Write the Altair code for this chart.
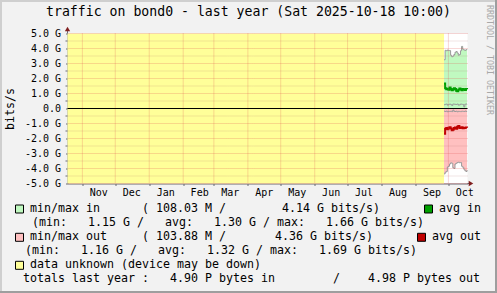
import altair as alt
import pandas as pd

FONT = "DejaVu Sans Mono"

# ---------------- data ----------------
title_text = "traffic on bond0 - last year (Sat 2025-10-18 10:00)"
range_start = "2024-10-18T10:00:00Z"
range_end = "2025-10-18T10:00:00Z"
unknown_start = "2024-10-18T10:00:00Z"
unknown_end = "2025-09-27T00:00:00Z"

days = [f"2025-09-{d:02d}T00:00:00Z" for d in range(27, 31)] + \
       [f"2025-10-{d:02d}T00:00:00Z" for d in range(1, 19)]

# values in G bits/s
max_in = [3.25, 3.88, 3.85, 3.90, 3.87, 3.86, 3.55, 3.45, 3.50, 3.60, 3.75,
          3.80, 3.70, 3.55, 3.60, 3.85, 4.14, 3.95, 3.90, 3.88, 3.92, 3.90]
min_in = [0.25, 0.28, 0.30, 0.22, 0.27, 0.30, 0.26, 0.20, 0.30, 0.29, 0.28,
          0.27, 0.30, 0.22, 0.25, 0.30, 0.28, 0.27, 0.11, 0.29, 0.30, 0.28]
avg_in = [1.66, 1.35, 1.28, 1.32, 1.25, 1.40, 1.30, 1.22, 1.27, 1.35, 1.30,
          1.18, 1.15, 1.25, 1.33, 1.28, 1.22, 1.30, 1.26, 1.24, 1.30, 1.28]
max_out = [4.36, 4.25, 4.20, 3.90, 3.85, 3.70, 3.62, 3.65, 3.95, 4.00, 3.70,
           3.65, 3.60, 3.58, 3.62, 3.60, 3.85, 3.92, 4.05, 4.15, 4.20, 4.10]
min_out = [0.18, 0.20, 0.17, 0.22, 0.19, 0.20, 0.18, 0.21, 0.10, 0.19, 0.20,
           0.18, 0.22, 0.19, 0.20, 0.21, 0.18, 0.19, 0.20, 0.17, 0.19, 0.20]
avg_out = [1.69, 1.35, 1.30, 1.38, 1.28, 1.25, 1.33, 1.45, 1.40, 1.30, 1.27,
           1.35, 1.22, 1.16, 1.30, 1.28, 1.25, 1.32, 1.30, 1.28, 1.26, 1.29]

month_names = ["Nov", "Dec", "Jan", "Feb", "Mar", "Apr", "May", "Jun",
               "Jul", "Aug", "Sep", "Oct"]
month_starts = ["2024-11-01", "2024-12-01", "2025-01-01", "2025-02-01",
                "2025-03-01", "2025-04-01", "2025-05-01", "2025-06-01",
                "2025-07-01", "2025-08-01", "2025-09-01", "2025-10-01"]
y_ticks = [-5, -4, -3, -2, -1, 0, 1, 2, 3, 4, 5]
y_minor = [-4.5, -3.5, -2.5, -1.5, -0.5, 0.5, 1.5, 2.5, 3.5, 4.5]

legend_in = ["108.03 M", "4.14 G", "1.15 G", "1.30 G", "1.66 G"]
legend_out = ["103.88 M", "4.36 G", "1.16 G", "1.32 G", "1.69 G"]
totals = ["4.90 P", "4.98 P"]


# ---------------- tables ----------------
def ms(s):
    t = pd.Timestamp(s)
    if t.tzinfo is None:
        t = t.tz_localize("UTC")
    return int(t.value // 10**6)


df = pd.DataFrame({
    "date": days,
    "max_in": max_in, "min_in": min_in, "avg_in": avg_in,
    "max_out": [-v for v in max_out], "min_out": [-v for v in min_out],
    "avg_out": [-v for v in avg_out],
})
df["zero"] = 0.0

ms_starts = [ms(s) for s in month_starts]
month_df = pd.DataFrame({
    "start": [s + "T00:00:00Z" for s in month_starts],
    "mid": [(pd.Timestamp(s) + pd.Timedelta(days=15)).strftime("%Y-%m-%dT%H:%M:%SZ")
            for s in month_starts],
    "name": month_names,
})
unknown_df = pd.DataFrame({"s": [unknown_start], "e": [unknown_end]})
grid_major = pd.DataFrame({"v": y_ticks})
grid_minor = pd.DataFrame({"v": y_minor})
one = pd.DataFrame({"a": [0]})

xs = alt.Scale(type="utc", domain=[ms(range_start), ms(range_end)])
ys = alt.Scale(domain=[-5, 5], nice=False, zero=False)

AXIS_COL = "#6a6a72"
xaxis = alt.Axis(values=ms_starts, labels=False, ticks=True, tickSize=2,
                 tickColor=AXIS_COL, domain=True, domainColor=AXIS_COL,
                 grid=False, title=None)
yaxis = alt.Axis(values=y_ticks, grid=False, domain=True, domainColor=AXIS_COL,
                 tickColor=AXIS_COL, tickSize=2, labelPadding=5,
                 labelFont=FONT, labelFontSize=10, labelColor="black",
                 labelExpr="datum.value == 0 ? '0.0' : (datum.value < 0 ? '-' : '') + format(abs(datum.value), '.1f') + ' G'",
                 title="bits/s", titleFont=FONT, titleFontSize=11.6,
                 titleFontWeight="normal", titleColor="black",
                 titleAngle=270, titleX=-57, titleY=75,
                 titleAlign="center", titleBaseline="middle")


def X(field):
    return alt.X(field, type="temporal", scale=xs, axis=xaxis)


def Y(field):
    return alt.Y(field, type="quantitative", scale=ys, axis=yaxis)


base = alt.Chart(df)

unknown = alt.Chart(unknown_df).mark_rect(color="#FFFF99").encode(
    x=X("s"), x2="e", y=alt.YDatum(5, scale=ys, axis=yaxis), y2=alt.Y2Datum(-5))

area_in = base.mark_area(interpolate="step-after", color="#C0F9C0").encode(
    x=X("date"), y=Y("max_in"), y2="zero")
area_out = base.mark_area(interpolate="step-after", color="#FFC0C0").encode(
    x=X("date"), y=Y("max_out"), y2="zero")

GRAY = "#9a9a9a"
lines = []
for f in ["max_in", "min_in", "max_out", "min_out"]:
    lines.append(base.mark_line(interpolate="step-after", color=GRAY,
                                strokeWidth=1).encode(x=X("date"), y=Y(f)))
avg_in_line = base.mark_line(interpolate="step-after", color="#00A000",
                             strokeWidth=2).encode(x=X("date"), y=Y("avg_in"))
avg_out_line = base.mark_line(interpolate="step-after", color="#C00000",
                              strokeWidth=2).encode(x=X("date"), y=Y("avg_out"))

MAJ = "#DE4F4F"
hgrid = alt.Chart(grid_major).mark_rule(color=MAJ, opacity=0.45,
                                        strokeDash=[1, 1]).encode(y=Y("v"))
hgrid_minor = alt.Chart(grid_minor).mark_rule(color="#B07070", opacity=0.35,
                                              strokeDash=[1, 1]).encode(y=Y("v"))
vgrid = alt.Chart(month_df).mark_rule(color=MAJ, opacity=0.45,
                                      strokeDash=[1, 1]).encode(x=X("start"))
zero_line = alt.Chart(one).mark_rule(color="black", strokeWidth=1).encode(
    y=alt.YDatum(0, scale=ys, axis=yaxis))

minor_ticks = alt.Chart(grid_minor).mark_rule(color=AXIS_COL).encode(
    y=Y("v"), x=alt.value(-2), x2=alt.value(0))

month_labels = alt.Chart(month_df).mark_text(
    font=FONT, fontSize=10, color="black", align="center", baseline="middle"
).encode(x=X("mid"), y=alt.value(159), text="name:N")

# axis extensions and arrows
ARROW = "#801F1F"
yext = alt.Chart(one).mark_rule(color=AXIS_COL).encode(
    x=alt.value(0), y=alt.value(-3), y2=alt.value(0))
xext = alt.Chart(one).mark_rule(color=AXIS_COL).encode(
    x=alt.value(400), x2=alt.value(402), y=alt.value(150))
arrow_up = alt.Chart(one).mark_point(shape="triangle-up", filled=True,
                                     color=ARROW, size=28, opacity=1).encode(
    x=alt.value(0), y=alt.value(-4.5))
arrow_right = alt.Chart(one).mark_point(shape="triangle-right", filled=True,
                                        color=ARROW, size=28, opacity=1).encode(
    x=alt.value(403.5), y=alt.value(150))

OX, OY = 67.5, 33.5
LF = 11.63  # legend font: 7.0 px per character
CW = 7.0


def txt(text, x, y, size=LF, color="black", align="left", angle=0):
    return alt.Chart(one).mark_text(
        text=text, font=FONT, fontSize=size, color=color, align=align,
        baseline="middle", angle=angle
    ).encode(x=alt.value(x - OX), y=alt.value(y - OY))


def seg(start, idx, text, y):
    return txt(text, start + idx * CW, y)


def box(fill, x, y, s=8):
    return alt.Chart(one).mark_rect(fill=fill, stroke="black",
                                    strokeWidth=1).encode(
        x=alt.value(x - OX), x2=alt.value(x + s - OX),
        y=alt.value(y - s / 2 - OY), y2=alt.value(y + s / 2 - OY))


def band(fill, x, x2, y, y2):
    return alt.Chart(one).mark_rect(fill=fill).encode(
        x=alt.value(x - OX), x2=alt.value(x2 - OX),
        y=alt.value(y - OY), y2=alt.value(y2 - OY))


r1, r2, r3, r4, r5, r6 = 209, 223.3, 237.3, 251, 265.3, 279

texts = [
    txt(title_text, 248.5, 12, size=13.2, align="center"),
    txt("RRDTOOL / TOBI OETIKER", 489, 5, size=8.3, color="#A8A8A8", angle=90),
    box("#C0F9C0", 15.5, r1),
    seg(30, 0, "min/max in", r1),
    seg(30, 16, f"( {legend_in[0]} /", r1),
    seg(30, 36, f"{legend_in[1]} bits/s)", r1),
    box("#00A000", 424.5, r1),
    txt("avg in", 439, r1),
    seg(32, 0, "(min:", r2),
    seg(32, 8, f"{legend_in[2]} /", r2),
    seg(32, 19, "avg:", r2),
    seg(32, 26, f"{legend_in[3]} /", r2),
    seg(32, 35, "max:", r2),
    seg(32, 42, f"{legend_in[4]} bits/s)", r2),
    box("#FFC0C0", 15.5, r3),
    seg(30, 0, "min/max out", r3),
    seg(30, 16, f"( {legend_out[0]} /", r3),
    seg(30, 35, f"{legend_out[1]} bits/s)", r3),
    box("#C00000", 417.5, r3),
    txt("avg out", 432, r3),
    seg(25, 0, "(min:", r4),
    seg(25, 8, f"{legend_out[2]} /", r4),
    seg(25, 19, "avg:", r4),
    seg(25, 26, f"{legend_out[3]} /", r4),
    seg(25, 35, "max:", r4),
    seg(25, 42, f"{legend_out[4]} bits/s)", r4),
    box("#FFFF99", 15.5, r5),
    seg(30, 0, "data unknown (device may be down)", r5),
    seg(23, 0, "totals last year :", r6),
    seg(23, 21, f"{totals[0]} bytes in", r6),
    seg(333, 0, "/", r6),
    seg(333, 5, f"{totals[1]} bytes out", r6),
]

frame = [
    band("#CFCFCF", 0, 497, 0, 2),
    band("#CFCFCF", 0, 2, 0, 293),
    band("#9E9E9E", 0, 497, 291, 293),
    band("#9E9E9E", 495, 497, 0, 293),
]

chart = alt.layer(
    unknown, area_in, area_out, *lines, avg_in_line, avg_out_line,
    hgrid_minor, hgrid, vgrid, zero_line, minor_ticks, month_labels,
    yext, xext, arrow_up, arrow_right, *texts, *frame
).properties(
    width=400, height=150,
    autosize=alt.AutoSizeParams(type="none"),
    padding={"left": OX, "top": OY, "right": 497 - OX - 400,
             "bottom": 293 - OY - 150},
    background="#F2F2F2",
).configure_view(strokeWidth=0, fill="white")

chart.save("out.html", embed_options={"renderer": "svg", "actions": False})
